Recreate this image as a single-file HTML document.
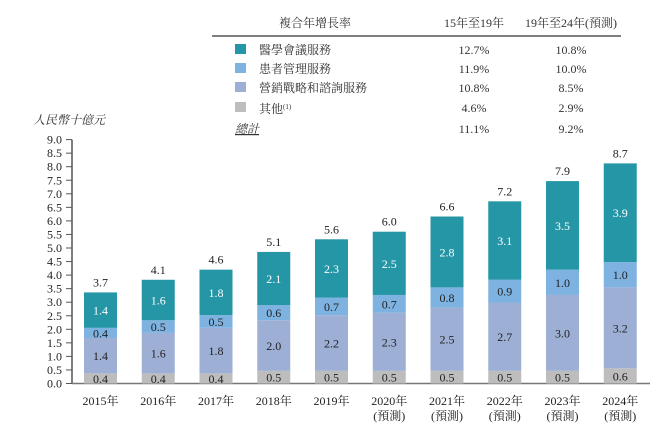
<!DOCTYPE html>
<html><head><meta charset="utf-8"><style>
body{margin:0;background:#fff;}
svg{display:block;font-family:"Liberation Serif","Noto Serif CJK SC","Noto Sans CJK TC",serif;}
</style></head><body>
<svg id="chart" width="667" height="430">
<g font-size="12" fill="#333">
<text x="315" y="27" text-anchor="middle">複合年增長率</text>
<text x="474" y="27" text-anchor="middle">15年至19年</text>
<text x="571" y="27" text-anchor="middle">19年至24年(預測)</text>
<line x1="212" y1="36" x2="621" y2="36" stroke="#333" stroke-width="1.2"/>
<rect x="235" y="44" width="11" height="10" fill="#2496a6"/>
<text x="259" y="54">醫學會議服務</text>
<text x="474" y="54" text-anchor="middle">12.7%</text><text x="571" y="54" text-anchor="middle">10.8%</text>
<rect x="235" y="63" width="11" height="10" fill="#7eb2e0"/>
<text x="259" y="73">患者管理服務</text>
<text x="474" y="73" text-anchor="middle">11.9%</text><text x="571" y="73" text-anchor="middle">10.0%</text>
<rect x="235" y="82" width="11" height="10" fill="#9dafd4"/>
<text x="259" y="92">營銷戰略和諮詢服務</text>
<text x="474" y="92" text-anchor="middle">10.8%</text><text x="571" y="92" text-anchor="middle">8.5%</text>
<rect x="235" y="102" width="11" height="10" fill="#bdbdbd"/>
<text x="259" y="113">其他<tspan font-size="7" dy="-4">(1)</tspan></text>
<text x="474" y="112" text-anchor="middle">4.6%</text><text x="571" y="112" text-anchor="middle">2.9%</text>
<text x="235" y="133" font-style="italic" text-decoration="underline">總計</text>
<text x="474" y="133" text-anchor="middle">11.1%</text><text x="571" y="133" text-anchor="middle">9.2%</text>
</g>
<text x="33" y="124" font-size="12" font-style="italic" fill="#333">人民幣十億元</text>
<g id="axes"></g><g id="bars"></g>
</svg>
<script>
const categories=["2015年","2016年","2017年","2018年","2019年","2020年","2021年","2022年","2023年","2024年"];
const forecast=[false,false,false,false,false,true,true,true,true,true];
const other=[0.4,0.4,0.4,0.5,0.5,0.5,0.5,0.5,0.5,0.6];
const marketing=[1.4,1.6,1.8,2.0,2.2,2.3,2.5,2.7,3.0,3.2];
const patient=[0.4,0.5,0.5,0.6,0.7,0.7,0.8,0.9,1.0,1.0];
const medical=[1.4,1.6,1.8,2.1,2.3,2.5,2.8,3.1,3.5,3.9];
const totals=[3.7,4.1,4.6,5.1,5.6,6.0,6.6,7.2,7.9,8.7];
const ticks=[0,0.5,1,1.5,2,2.5,3,3.5,4,4.5,5,5.5,6,6.5,7,7.5,8,8.5,9];
const NS="http://www.w3.org/2000/svg";
const base=383.5;
const yTick=v=>base-v*27.1;
const yBar=v=>base-v*25.3;
const xc=i=>100.5+i*57.75;
const bw=33;
function mk(tag,attrs,parent,text){const e=document.createElementNS(NS,tag);for(const k in attrs)e.setAttribute(k,attrs[k]);if(text!==undefined)e.textContent=text;parent.appendChild(e);return e;}
const ax=document.getElementById('axes'),bg=document.getElementById('bars');
const yl=mk('line',{x1:72,y1:yTick(9),x2:72,y2:base,stroke:'#555','stroke-width':1.5},ax);


const xl=mk('line',{x1:72,y1:base,x2:650,y2:base,stroke:'#777','stroke-width':1.5},ax);


ticks.forEach(t=>{
 const l=mk('line',{x1:66,y1:yTick(t),x2:72,y2:yTick(t),stroke:'#555','stroke-width':1},ax);
 
 
 const tx=mk('text',{x:62,y:yTick(t)+4,'text-anchor':'end','font-size':12,fill:'#222'},ax,t.toFixed(1));
 
 
});
const series=[[other,'#bdbdbd','#222','other'],[marketing,'#9dafd4','#222','marketing'],[patient,'#7eb2e0','#222','patient'],[medical,'#2496a6','#fff','medical']];
categories.forEach((c,i)=>{
 let cum=0;
 series.forEach(([arr,col,tc,nm])=>{
  const v=arr[i];const y0=yBar(cum),y1=yBar(cum+v);
  const r=mk('rect',{x:xc(i)-bw/2,y:y1,width:bw,height:y0-y1,fill:col},bg);
  
  
  const t=mk('text',{x:xc(i),y:(y0+y1)/2+4.5,'text-anchor':'middle','font-size':12,fill:tc},bg,v.toFixed(1));
  
  
  cum+=v;
 });
 const tt=mk('text',{x:xc(i),y:yBar(cum)-6,'text-anchor':'middle','font-size':12,fill:'#222'},bg,totals[i].toFixed(1));
 
 
 const cl=mk('text',{x:xc(i),y:405,'text-anchor':'middle','font-size':12,fill:'#222'},bg,c);
 
 
 if(forecast[i]){
  const fl=mk('text',{x:xc(i),y:420,'text-anchor':'middle','font-size':12,fill:'#222'},bg,'(預測)');
  
  
 }
});
</script>
</body></html>
